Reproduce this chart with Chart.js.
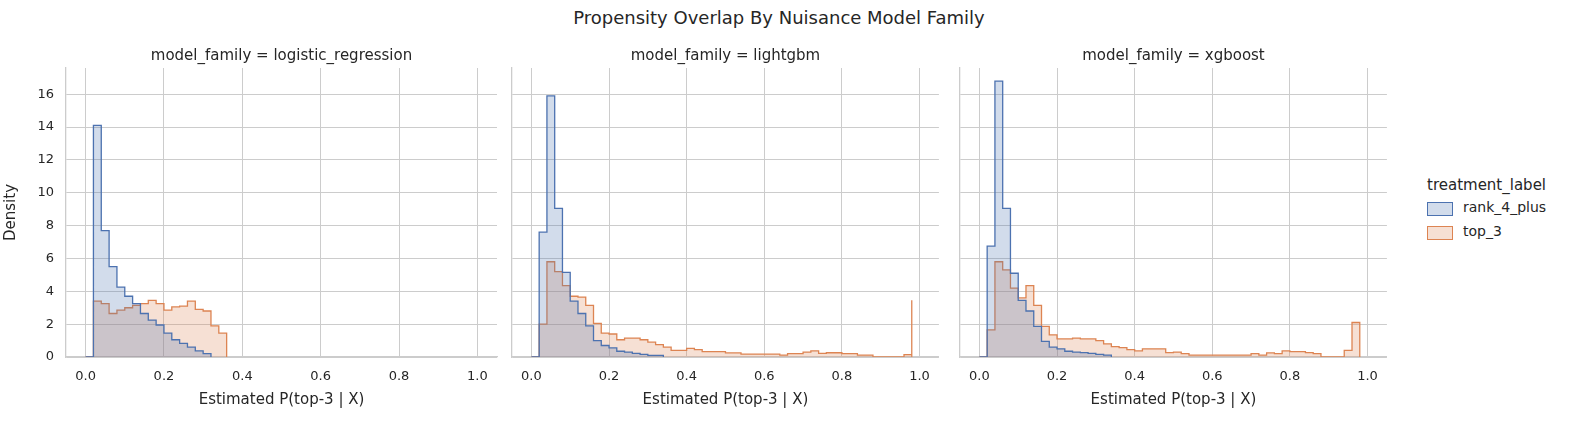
<!DOCTYPE html>
<html>
<head>
<meta charset="utf-8">
<script src="https://cdn.jsdelivr.net/npm/chart.js@4"></script>
<style>
  body { margin: 0; background: #fff; font-family: "DejaVu Sans", sans-serif; color: #262626; }
  #wrap { position: relative; width: 1580px; height: 421px; }
  canvas { position: absolute; top: 0; }
  .txt { position: absolute; white-space: nowrap; }
  .patch { position: absolute; width: 24px; height: 12px; border: 1px solid; }
</style>
</head>
<body>
<div id="wrap">
  <div class="txt" style="left:0;width:1558px;text-align:center;top:7px;font-size:18px;">Propensity Overlap By Nuisance Model Family</div>
  <canvas id="c1" style="left:0px"></canvas>
  <canvas id="c2" style="left:500px"></canvas>
  <canvas id="c3" style="left:948px"></canvas>
  <div class="txt" style="left:1427px;top:176px;font-size:15px;">treatment_label</div>
  <div class="patch" style="left:1427px;top:202px;background:rgba(76,114,176,0.25);border-color:#4c72b0"></div>
  <div class="txt" style="left:1463px;top:199px;font-size:14px;">rank_4_plus</div>
  <div class="patch" style="left:1427px;top:226px;background:rgba(221,132,82,0.25);border-color:#dd8452"></div>
  <div class="txt" style="left:1463px;top:223px;font-size:14px;">top_3</div>
</div>
<script>
const binWidth = 0.02;
const xTicks = [0, 0.2, 0.4, 0.6, 0.8, 1.0];
const yTicks = [0, 2, 4, 6, 8, 10, 12, 14, 16];
const families = ["logistic_regression", "lightgbm", "xgboost"];

// density per 0.02 bin, starting at 0
const lrRank = [14.1, 7.7, 5.5, 4.25, 3.7, 3.25, 2.65, 2.25, 1.95, 1.45, 1.05, 0.83, 0.6, 0.37, 0.2, 0.1];
const lrTop = [3.4, 3.25, 2.65, 2.85, 3.0, 3.15, 3.25, 3.45, 3.25, 2.85, 3.05, 3.1, 3.4, 2.9, 2.8, 1.9, 1.45, 0.4];
const lgbRank = [7.6, 15.9, 9.05, 5.15, 3.4, 2.65, 1.9, 1.0, 0.7, 0.55, 0.35, 0.3, 0.22, 0.16, 0.1, 0.1, 0.08];
const lgbTop = [2.0, 5.8, 5.2, 4.35, 3.7, 3.65, 3.15, 2.05, 1.45, 1.4, 1.05, 1.15, 1.15, 1.05, 0.9, 0.75, 0.6, 0.4, 0.4, 0.53,
  0.45, 0.33, 0.33, 0.33, 0.25, 0.25, 0.18, 0.18, 0.18, 0.18, 0.18, 0.12, 0.2, 0.2, 0.3, 0.37, 0.22, 0.26, 0.26, 0.2,
  0.2, 0.12, 0.12, 0, 0, 0, 0, 0.14, 3.45];
const xgbRank = [6.75, 16.8, 9.05, 5.1, 3.45, 2.8, 1.87, 0.95, 0.6, 0.5, 0.35, 0.3, 0.27, 0.22, 0.16, 0.12, 0.12];
const xgbTop = [1.65, 5.8, 5.3, 4.2, 3.6, 4.35, 3.15, 1.87, 1.35, 1.1, 1.1, 1.15, 1.1, 1.1, 1.0, 0.8, 0.63, 0.57, 0.45, 0.37,
  0.5, 0.5, 0.5, 0.27, 0.3, 0.2, 0.12, 0.12, 0.12, 0.12, 0.12, 0.12, 0.12, 0.12, 0.2, 0.12, 0.25, 0.2, 0.37, 0.33,
  0.33, 0.27, 0.2, 0, 0, 0, 0.4, 2.1, 0.95];

const series = [[lrRank, lrTop], [lgbRank, lgbTop], [xgbRank, xgbTop]];

// points at right bin edges, drawn with stepped "before"
function stepPoints(vals) {
  const pts = [{ x: 0, y: 0 }];
  vals.forEach((v, i) => pts.push({ x: (i + 1) * binWidth, y: v }));
  pts.push({ x: vals.length * binWidth, y: 0 });
  return pts;
}

const panelTitle = {
  id: "panelTitle",
  afterDraw(chart, args, opts) {
    const { ctx, chartArea } = chart;
    ctx.save();
    ctx.fillStyle = "#262626";
    ctx.font = "15px 'DejaVu Sans'";
    ctx.textAlign = "center";
    ctx.textBaseline = "middle";
    ctx.fillText(opts.text, (chartArea.left + chartArea.right) / 2, 56);
    ctx.restore();
  },
};

const canvasW = [500, 442, 442];
const yWidth = [66, 12, 12];

families.forEach((fam, p) => {
  const cv = document.getElementById("c" + (p + 1));
  cv.width = canvasW[p];
  cv.height = 421;
  cv.style.width = canvasW[p] + "px";
  cv.style.height = "421px";
  const [rank, top] = series[p];
  new Chart(cv, {
    type: "line",
    data: {
      datasets: [
        { data: stepPoints(rank), stepped: "before", borderColor: "#4c72b0", backgroundColor: "rgba(76,114,176,0.25)", fill: "origin", borderWidth: 1.3, pointRadius: 0 },
        { data: stepPoints(top), stepped: "before", borderColor: "#dd8452", backgroundColor: "rgba(221,132,82,0.25)", fill: "origin", borderWidth: 1.3, pointRadius: 0 },
      ],
    },
    options: {
      responsive: false,
      animation: false,
      layout: { padding: { top: 68, right: 3, left: 0, bottom: 8 } },
      plugins: { legend: { display: false }, tooltip: { enabled: false }, panelTitle: { text: "model_family = " + fam } },
      scales: {
        x: {
          type: "linear",
          min: -0.05,
          max: 1.05,
          afterBuildTicks: (s) => { s.ticks = xTicks.map((v) => ({ value: v })); },
          afterFit: (s) => { s.height = 56; },
          ticks: { color: "#262626", font: { size: 13, family: "DejaVu Sans" }, padding: 12, callback: (v) => v.toFixed(1) },
          grid: { color: "#cccccc", drawTicks: false },
          border: { color: "#cccccc", width: 1.3 },
          title: { display: true, text: "Estimated P(top-3 | X)", color: "#262626", font: { size: 15, family: "DejaVu Sans" }, padding: { top: 0 } },
        },
        y: {
          min: 0,
          max: 17.6,
          afterBuildTicks: (s) => { s.ticks = yTicks.map((v) => ({ value: v })); },
          afterFit: (s) => { s.width = yWidth[p]; },
          ticks: { display: p === 0, color: "#262626", font: { size: 13, family: "DejaVu Sans" }, padding: 12 },
          grid: { color: "#cccccc", drawTicks: false },
          border: { color: "#cccccc", width: 1.3 },
          title: { display: p === 0, text: "Density", color: "#262626", font: { size: 15, family: "DejaVu Sans" }, padding: 2 },
        },
      },
    },
    plugins: [panelTitle],
  });
});
</script>
</body>
</html>
